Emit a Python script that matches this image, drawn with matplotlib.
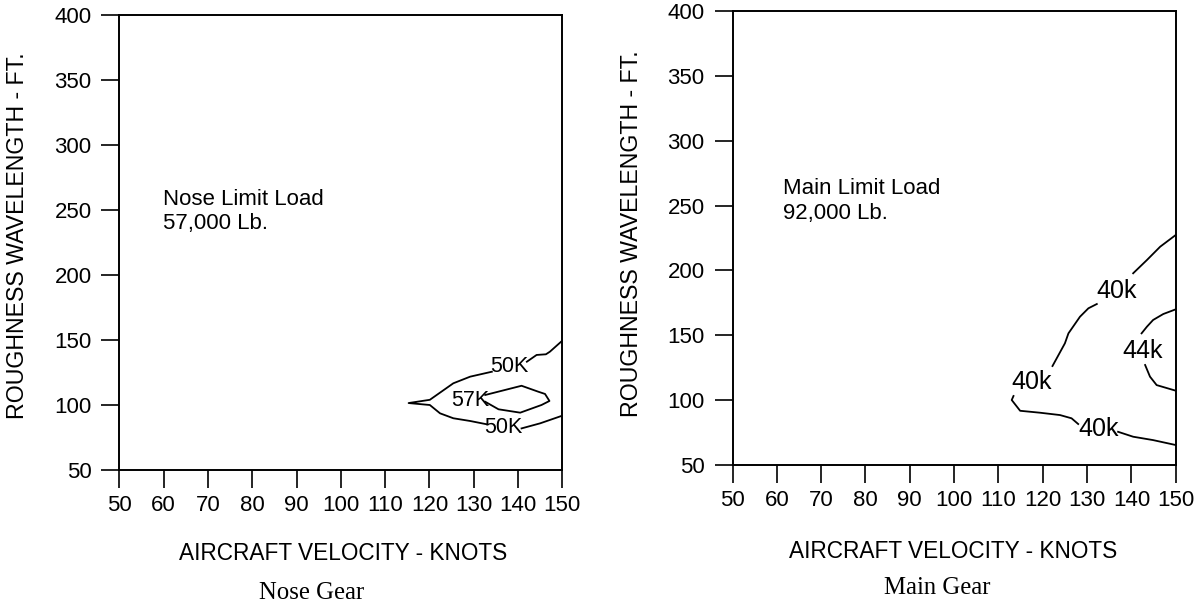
import numpy as np
import matplotlib
matplotlib.use("Agg")
import matplotlib.pyplot as plt

nan = np.nan

# ---------------- data ----------------
x_ticks = [50, 60, 70, 80, 90, 100, 110, 120, 130, 140, 150]
y_ticks = [50, 100, 150, 200, 250, 300, 350, 400]

# Nose gear contours (velocity knots, wavelength ft); nan = gap for label
nose_50k_v = [150.0, 147.2, 146.3, 144.2, 142.0, nan, 134.1, 129.2, 125.4, 120.1, 115.3,
              120.1, 122.4, 125.4, 129.2, 132.9, nan, 140.8, 145.0, 150.0]
nose_50k_w = [149.5, 141.0, 139.0, 138.5, 133.3, nan, 125.6, 121.8, 116.7, 104.0, 101.5,
              100.0, 93.6, 89.8, 87.7, 85.2, nan, 82.0, 85.9, 91.8]
nose_57k_v = [132.6, 140.8, 144.6, 146.1, 147.1, 145.3, 140.5, 135.6, 132.6]
nose_57k_w = [107.7, 114.8, 110.2, 108.5, 103.1, 100.0, 94.1, 96.7, 102.5]
nose_labels = ["50K", "57K", "50K"]
nose_label_v = [138.0, 129.2, 136.7]
nose_label_w = [129.8, 103.1, 82.8]

# Main gear contours
main_40k_v = [150.0, 146.5, 143.5, 140.4, nan, 132.2, 130.3, 128.4, 125.8, 125.0, 122.2, nan,
              113.4, 113.0, 114.9, 119.4, 123.9, 126.5, 128.0, nan, 137.0, 140.4, 144.9, 150.0]
main_40k_w = [227.3, 218.3, 208.0, 197.8, nan, 174.1, 170.8, 164.3, 151.5, 143.8, 126.3, nan,
              103.2, 100.1, 91.8, 90.3, 88.5, 86.0, 81.6, nan, 75.6, 71.8, 69.2, 65.4]
main_44k_v = [150.0, 147.2, 144.9, 143.5, 142.3, nan, 143.1, 144.2, 145.7, 150.0]
main_44k_w = [170.0, 166.4, 161.8, 156.6, 151.5, nan, 127.1, 118.1, 111.6, 107.3]
main_labels = ["40k", "40k", "40k", "44k"]
main_label_v = [136.7, 117.5, 132.5, 142.6]
main_label_w = [184.3, 114.2, 77.5, 138.0]

nose_note = "Nose Limit Load\n57,000 Lb."
main_note = "Main Limit Load\n92,000 Lb."
xlabel = "AIRCRAFT VELOCITY - KNOTS"
ylabel = "ROUGHNESS WAVELENGTH - FT."

# ---------------- figure ----------------
plt.rcParams['font.family'] = ['Liberation Sans', 'DejaVu Sans']
W, H = 1195, 611
fig = plt.figure(figsize=(W / 100, H / 100), dpi=100)

ax1 = fig.add_axes([119.3 / W, 1 - 470 / H, 443.0 / W, 455.0 / H])
ax2 = fig.add_axes([732.5 / W, 1 - 465 / H, 443.2 / W, 454.0 / H])

lw = 1.3
for ax in (ax1, ax2):
    ax.set_xlim(50, 150)
    ax.set_ylim(50, 400)
    ax.set_xticks(x_ticks)
    ax.set_yticks(y_ticks)
    ax.tick_params(axis='both', direction='out', length=13, width=1.2,
                   labelsize=16, colors='black')
    ax.tick_params(axis='x', pad=5)
    ax.tick_params(axis='y', pad=7)
    for s in ax.spines.values():
        s.set_linewidth(1.4)

# Nose gear
ax1.plot(nose_50k_v, nose_50k_w, color='black', lw=lw)
ax1.plot(nose_57k_v, nose_57k_w, color='black', lw=lw)
for t, v, w in zip(nose_labels, nose_label_v, nose_label_w):
    ax1.text(v, w, t, fontsize=15.5, ha='center', va='center')
ax1.text(59.8, 266, nose_note, fontsize=16, ha='left', va='top', linespacing=1.2)

# Main gear
ax2.plot(main_40k_v, main_40k_w, color='black', lw=lw)
ax2.plot(main_44k_v, main_44k_w, color='black', lw=lw)
for t, v, w in zip(main_labels, main_label_v, main_label_w):
    ax2.text(v, w, t, fontsize=18, ha='center', va='center')
ax2.text(61.4, 271, main_note, fontsize=16, ha='left', va='top', linespacing=1.2)

# axis titles
fig.text(343 / W, 1 - 553 / H, xlabel, fontsize=16.3, ha='center', va='center')
fig.text(953 / W, 1 - 552 / H, xlabel, fontsize=16.3, ha='center', va='center')
fig.text(17.5 / W, 1 - 236 / H, ylabel, fontsize=16.7, ha='center', va='center', rotation=90)
fig.text(632 / W, 1 - 234 / H, ylabel, fontsize=16.7, ha='center', va='center', rotation=90)
fig.text(312 / W, 1 - 593 / H, "Nose Gear", fontsize=17.8, ha='center', va='center',
         family=['Liberation Serif', 'DejaVu Serif'])
fig.text(937 / W, 1 - 588 / H, "Main Gear", fontsize=17.8, ha='center', va='center',
         family=['Liberation Serif', 'DejaVu Serif'])

fig.savefig("out.png", dpi=100)
